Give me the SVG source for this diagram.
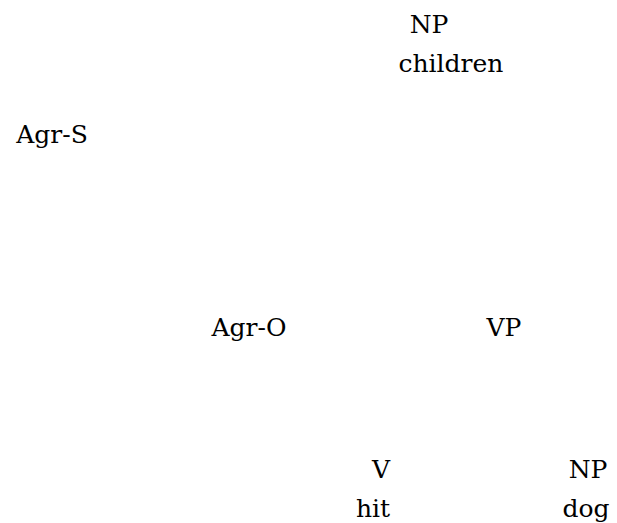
<svg xmlns="http://www.w3.org/2000/svg" width="617" height="523" viewBox="0 0 617 523">
<style>
.t text{font-family:"DejaVu Serif",serif;font-size:25px;fill:#000;text-anchor:middle}
</style>
<rect width="617" height="523" fill="#fff"/>
<g id="connectors"></g>
<g id="np-children" class="t"><text x="429" y="33">NP</text><text x="451" y="72">children</text></g>
<g id="agr-s" class="t"><text x="52" y="143">Agr-S</text></g>
<g id="agr-o" class="t"><text x="249" y="336">Agr-O</text></g>
<g id="vp" class="t"><text x="504" y="336">VP</text></g>
<g id="v-hit" class="t"><text x="381" y="478">V</text><text x="373" y="517">hit</text></g>
<g id="np-dog" class="t"><text x="588" y="478">NP</text><text x="586" y="517">dog</text></g>
</svg>
